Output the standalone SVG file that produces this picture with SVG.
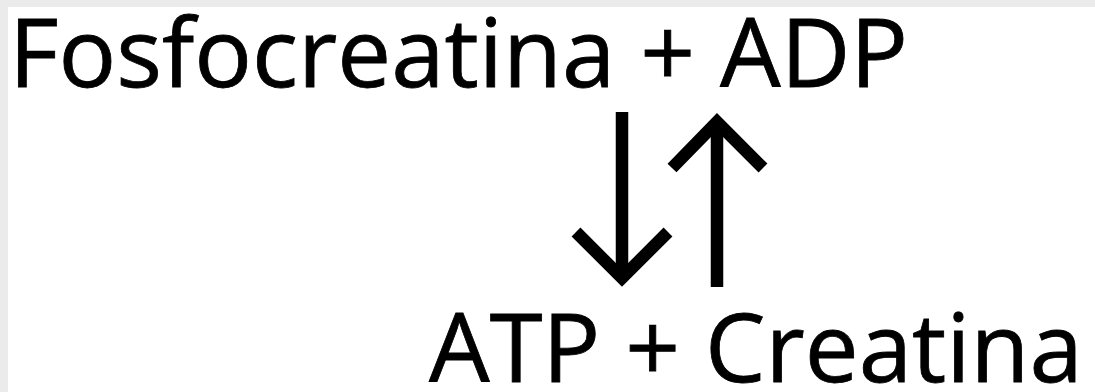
<svg xmlns="http://www.w3.org/2000/svg" width="1095" height="392" viewBox="0 0 1095 392">
<style>
.t{font-family:"Open Sans","Noto Sans",sans-serif;font-size:96px;fill:#000;stroke:#000;stroke-width:0.8}
.a{fill:none;stroke:#000;stroke-width:12.5;stroke-linejoin:miter;stroke-linecap:butt}
</style>
<rect x="0" y="0" width="1095" height="392" fill="#ebebeb"/>
<rect x="8" y="7" width="1087" height="385" fill="#ffffff"/>
<g id="reactants"><text class="t" x="9" y="87">Fosfocreatina + ADP</text></g>
<g id="products"><text class="t" x="429" y="382">ATP + Creatina</text></g>
<g id="connectors">
<path class="a" d="M622 112 V280"/>
<polyline class="a" points="576,232 622,278 668,232"/>
<path class="a" d="M717 287 V120"/>
<polyline class="a" points="672,168 717,122 763,168"/>
</g>
</svg>
